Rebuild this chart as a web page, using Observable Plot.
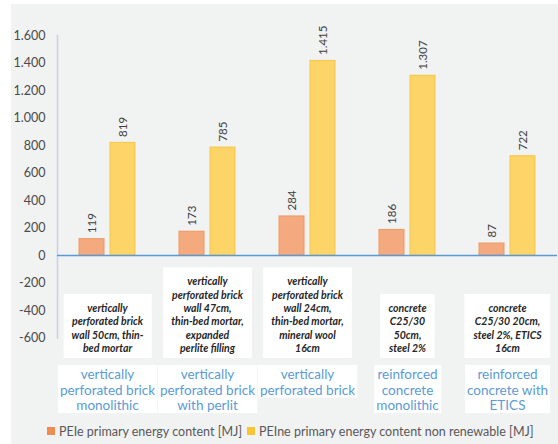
<!DOCTYPE html>
<html><head><meta charset="utf-8">
<script src="https://cdn.jsdelivr.net/npm/d3@7"></script>
<script src="https://cdn.jsdelivr.net/npm/@observablehq/plot@0.6"></script>
<style>
body{margin:0;background:#fff;font-family:Lato,sans-serif;}
#bg{position:absolute;left:11px;top:4px;width:547px;height:440px;background:#f1f2f2;}
#chart{position:absolute;left:0;top:0;}
#legend{position:absolute;left:0;top:418px;width:558px;height:26px;font-size:12.5px;color:#595959;}
.item{position:absolute;top:0;height:26px;display:flex;align-items:center;white-space:nowrap;}
.sw{width:8px;height:8px;margin-right:4px;display:inline-block;}
</style></head><body>
<div id="bg"></div><div id="chart"></div><div id="legend"></div>
<script>
const categories = ["brick monolithic", "brick with perlit", "brick", "concrete monolithic", "concrete with ETICS"];
const labels = [
  "vertically\nperforated brick\nmonolithic",
  "vertically\nperforated brick\nwith perlit",
  "vertically\nperforated brick",
  "reinforced\nconcrete\nmonolithic",
  "reinforced\nconcrete with\nETICS"
];
const descriptions = [
  "vertically\nperforated brick\nwall 50cm, thin-\nbed mortar",
  "vertically\nperforated brick\nwall 47cm,\nthin-bed mortar,\nexpanded\nperlite filling",
  "vertically\nperforated brick\nwall 24cm,\nthin-bed mortar,\nmineral wool\n16cm",
  "concrete\nC25/30\n50cm,\nsteel 2%",
  "concrete\nC25/30 20cm,\nsteel 2%, ETICS\n16cm"
];
const series = ["PEIe primary energy content [MJ]", "PEIne primary energy content non renewable [MJ]"];
const peiE = [119, 173, 284, 186, 87];
const peiNE = [819, 785, 1415, 1307, 722];
const yTicks = [-600, -400, -200, 0, 200, 400, 600, 800, 1000, 1200, 1400, 1600];

const barFill = ["#F4A97F", "#FCD467"];
const barStroke = ["#EF9762", "#F5C646"];
const swatch = ["#F08B52", "#F9C530"];

const fmt = v => d3.format(",")(v).replace(/,/g, ".").replace(/\u2212/g, "-");

const rows = [];
categories.forEach((c, i) => {
  rows.push({cat: c, series: series[0], value: peiE[i]});
  rows.push({cat: c, series: series[1], value: peiNE[i]});
});
const descData = categories.map((c, i) => ({cat: c, desc: descriptions[i]}));
const labData = categories.map((c, i) => ({cat: c, label: labels[i]}));

const plot = Plot.plot({
  width: 558, height: 418,
  marginLeft: 55, marginRight: 0, marginTop: 35, marginBottom: 80.5,
  style: {background: "transparent", fontFamily: "Lato, sans-serif", overflow: "visible"},
  fx: {domain: categories, padding: 0, axis: null, label: null},
  x: {domain: series, paddingInner: 0.1875, paddingOuter: 0.668, axis: null},
  y: {domain: [-600, 1600], axis: null},
  marks: [
    Plot.frame({anchor: "left", stroke: "#C3D4EA", strokeWidth: 1.5, facetAnchor: "left"}),
    Plot.axisY({ticks: yTicks, tickSize: 0, tickPadding: 12, tickFormat: fmt, fontSize: 12.5, fill: "#4a4a4a", label: null}),
    ...series.map((s, k) => Plot.barY(rows.filter(d => d.series === s), {
      fx: "cat", x: "series", y: "value", fill: barFill[k], stroke: barStroke[k], strokeWidth: 1
    })),
    Plot.ruleY([0], {stroke: "#5B9BD5", strokeWidth: 1.5}),
    Plot.text(rows, {
      fx: "cat", x: "series", y: "value", text: d => fmt(d.value),
      rotate: -90, textAnchor: "start", lineAnchor: "middle", dy: -6,
      fontSize: 11.5, fill: "#404040"
    }),
    Plot.text(descData, {
      fx: "cat", text: "desc", frameAnchor: "bottom", lineAnchor: "bottom", dy: 14,
      fontSize: 10.5, fontFamily: "Lato, sans-serif", fontStyle: "italic", fontWeight: "bold", fill: "#262626",
      lineHeight: 1.27, className: "desc"
    }),
    Plot.text(labData, {
      fx: "cat", text: "label", frameAnchor: "bottom", lineAnchor: "top", dy: 30,
      fontSize: 13.5, fill: "#5B9BD5", lineHeight: 1.15, className: "lab"
    })
  ]
});
document.getElementById("chart").appendChild(plot);

function boxes(cls, padX, padTop, padBottom) {
  plot.querySelectorAll("g." + cls + " text").forEach(t => {
    const b = t.getBBox();
    const r = document.createElementNS("http://www.w3.org/2000/svg", "rect");
    r.setAttribute("x", b.x - padX);
    r.setAttribute("y", b.y - padTop);
    r.setAttribute("width", b.width + 2 * padX);
    r.setAttribute("height", b.height + padTop + padBottom);
    r.setAttribute("fill", "#ffffff");
    r.setAttribute("stroke", "none");
    const tr = t.getAttribute("transform");
    if (tr) r.setAttribute("transform", tr);
    t.parentNode.insertBefore(r, t);
  });
}
boxes("desc", 8, 8, 4);
boxes("lab", 2, 1, 0);

const legend = document.getElementById("legend");
const lefts = [47, 247];
series.forEach((s, k) => {
  const it = document.createElement("div");
  it.className = "item";
  it.style.left = lefts[k] + "px";
  it.innerHTML = `<span class="sw" style="background:${swatch[k]}"></span><span>${s}</span>`;
  legend.appendChild(it);
});
</script>
</body></html>
